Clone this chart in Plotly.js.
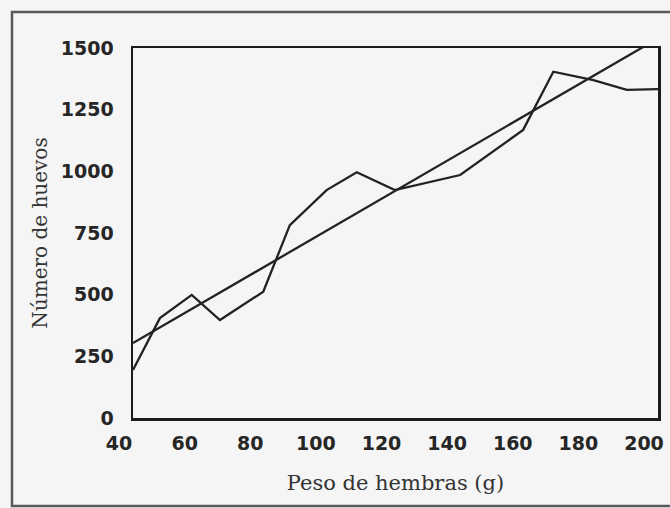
<!DOCTYPE html>
<html>
<head>
<meta charset="utf-8">
<script src="https://cdn.plot.ly/plotly-3.0.1.min.js"></script>
<style>
  html, body { margin: 0; padding: 0; background: #f4f5f4; }
  #chart { width: 670px; height: 508px; }
</style>
</head>
<body>
<div id="chart"></div>
<script>
// Observed data: egg number vs female weight
const pesoObs = [40, 48.2, 57.9, 66.5, 79.7, 87.8, 99, 108.2, 119.8, 139.7, 158.9, 168.1, 180.3, 190.5, 200];
const huevosObs = [195, 405, 499, 397, 512, 782, 924, 996, 924, 985, 1168, 1404, 1370, 1330, 1333];

// Fitted regression line (end points)
const pesoFit = [40, 200];
const huevosFit = [304, 1539];

// Axis ticks
const xTicks = [40, 60, 80, 100, 120, 140, 160, 180, 200];
const yTicks = [0, 250, 500, 750, 1000, 1250, 1500];

const xTitle = 'Peso de hembras (g)';
const yTitle = 'Número de huevos';

const lineColor = '#222222';

const traces = [
  {
    x: pesoObs, y: huevosObs, type: 'scatter', mode: 'lines',
    line: { color: lineColor, width: 2.3 }, name: 'Observado', hoverinfo: 'x+y'
  },
  {
    x: pesoFit, y: huevosFit, type: 'scatter', mode: 'lines',
    line: { color: lineColor, width: 2.3 }, name: 'Ajuste', hoverinfo: 'x+y'
  }
];

const tickFont = { family: 'DejaVu Sans', size: 19, weight: 'bold', color: '#262626' };
const xTitleFont = { family: 'DejaVu Serif', size: 21, color: '#333333' };
const yTitleFont = { family: 'DejaVu Serif', size: 20, color: '#333333' };

const layout = {
  width: 670, height: 508,
  margin: { l: 133, r: 12, t: 48, b: 90, pad: 0 },
  paper_bgcolor: '#f4f5f4',
  plot_bgcolor: '#f4f5f4',
  showlegend: false,
  xaxis: {
    range: [40, 200],
    tickvals: xTicks,
    ticktext: xTicks.map(String),
    ticks: '',
    showgrid: false, zeroline: false,
    showline: true, mirror: true, linecolor: '#1c1c1c', linewidth: 2.5,
    tickfont: tickFont,
    ticklabelstandoff: 7,
    ticklabelshift: -14,
    title: { text: xTitle, font: xTitleFont, standoff: 22 },
    automargin: false
  },
  yaxis: {
    range: [0, 1500],
    tickvals: yTicks,
    ticktext: yTicks.map(String),
    ticks: '',
    showgrid: false, zeroline: false,
    showline: true, mirror: true, linecolor: '#1c1c1c', linewidth: 2.5,
    tickfont: tickFont,
    ticklabelstandoff: 13,
    title: { text: yTitle, font: yTitleFont, standoff: 8 },
    automargin: false
  },
  shapes: [
    {
      type: 'rect', xref: 'paper', yref: 'paper',
      x0: -0.2305, x1: 1.06, y0: -0.2378, y1: 1.0973,
      line: { color: '#5a5a5a', width: 2.5 }, fillcolor: 'rgba(0,0,0,0)', layer: 'below'
    }
  ]
};

Plotly.newPlot('chart', traces, layout, { displayModeBar: false, staticPlot: true });
</script>
</body>
</html>
